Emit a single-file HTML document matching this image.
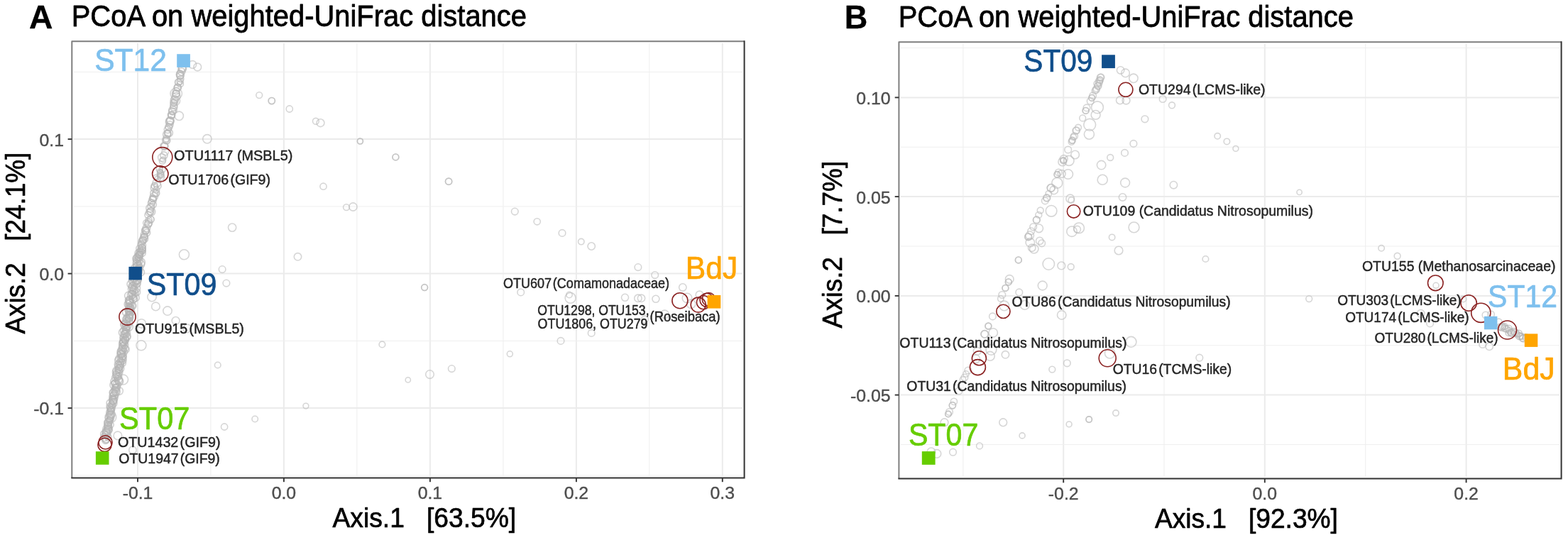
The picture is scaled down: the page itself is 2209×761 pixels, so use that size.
<!DOCTYPE html>
<html lang="en"><head><meta charset="utf-8"><title>PCoA on weighted-UniFrac distance</title>
<style>html,body{margin:0;padding:0;background:#fff;}body{width:2209px;height:761px;overflow:hidden;}svg{display:block;font-family:"Liberation Sans",Arial,Helvetica,sans-serif;}text{white-space:pre;}</style>
</head><body>
<svg width="2209" height="761" viewBox="0 0 2209 761">
<rect width="2209" height="761" fill="#fff"/>
<g id="panel-A">
<g stroke="#efefef" stroke-width="1.1" fill="none">
<line x1="296.9" y1="60.9" x2="296.9" y2="670.9"/>
<line x1="502.9" y1="60.9" x2="502.9" y2="670.9"/>
<line x1="708.9" y1="60.9" x2="708.9" y2="670.9"/>
<line x1="914.8" y1="60.9" x2="914.8" y2="670.9"/>
</g>
<g stroke="#ebebeb" stroke-width="2.0" fill="none">
<line x1="194" y1="60.9" x2="194" y2="670.9"/>
<line x1="399.9" y1="60.9" x2="399.9" y2="670.9"/>
<line x1="605.9" y1="60.9" x2="605.9" y2="670.9"/>
<line x1="811.9" y1="60.9" x2="811.9" y2="670.9"/>
<line x1="1017.8" y1="60.9" x2="1017.8" y2="670.9"/>
</g>
<g stroke="#efefef" stroke-width="1.1" fill="none">
<line x1="103.9" y1="101.5" x2="1046" y2="101.5"/>
<line x1="103.9" y1="291" x2="1046" y2="291"/>
<line x1="103.9" y1="480.5" x2="1046" y2="480.5"/>
<line x1="103.9" y1="670" x2="1046" y2="670"/>
</g>
<g stroke="#ebebeb" stroke-width="2.0" fill="none">
<line x1="103.9" y1="196.1" x2="1046" y2="196.1"/>
<line x1="103.9" y1="385.6" x2="1046" y2="385.6"/>
<line x1="103.9" y1="575.1" x2="1046" y2="575.1"/>
</g>
<g fill="none" stroke="#b3b3b3" stroke-width="1.6" stroke-opacity="0.62">
<circle cx="256.7" cy="97" r="5.7"/>
<circle cx="255.6" cy="101" r="5.2"/>
<circle cx="253.5" cy="103.7" r="4.7"/>
<circle cx="253.8" cy="105.3" r="5.5"/>
<circle cx="254.4" cy="111.1" r="4.5"/>
<circle cx="253.6" cy="114.5" r="4.5"/>
<circle cx="254" cy="118.2" r="4.4"/>
<circle cx="250.2" cy="124" r="5"/>
<circle cx="248.3" cy="128.1" r="4.7"/>
<circle cx="247.8" cy="132.2" r="5.3"/>
<circle cx="248.1" cy="136.2" r="5.7"/>
<circle cx="246.1" cy="140" r="5.1"/>
<circle cx="246.3" cy="142.5" r="4.5"/>
<circle cx="244.8" cy="148.4" r="4.9"/>
<circle cx="244.8" cy="151" r="5.1"/>
<circle cx="243.5" cy="155.4" r="5.7"/>
<circle cx="241.2" cy="161.9" r="4.8"/>
<circle cx="241.6" cy="163.2" r="4.7"/>
<circle cx="239.5" cy="170.3" r="5.7"/>
<circle cx="238.9" cy="171.7" r="5.6"/>
<circle cx="239.3" cy="175.6" r="4.8"/>
<circle cx="236.3" cy="182.6" r="5"/>
<circle cx="237.8" cy="187.2" r="5.6"/>
<circle cx="235.1" cy="189.4" r="5.5"/>
<circle cx="234.3" cy="195.2" r="4.6"/>
<circle cx="233.1" cy="197.6" r="4.5"/>
<circle cx="231.3" cy="205.9" r="5.4"/>
<circle cx="230.9" cy="219" r="5.1"/>
<circle cx="228.9" cy="226.7" r="4.5"/>
</g>
<g fill="none" stroke="#b3b3b3" stroke-width="1.6" stroke-opacity="0.62">
<circle cx="228.8" cy="239.1" r="4.2"/>
<circle cx="224.7" cy="238.5" r="4.5"/>
<circle cx="225.2" cy="241.3" r="3.6"/>
<circle cx="226" cy="243.4" r="4.1"/>
<circle cx="226.1" cy="244.7" r="4.8"/>
<circle cx="226.4" cy="246.8" r="4.6"/>
<circle cx="225" cy="247.9" r="3.4"/>
<circle cx="226.5" cy="249.8" r="4.9"/>
<circle cx="219.7" cy="249.8" r="3.6"/>
<circle cx="222" cy="252.1" r="4"/>
</g>
<g fill="none" stroke="#b3b3b3" stroke-width="1.6" stroke-opacity="0.62">
<circle cx="220.7" cy="258" r="5.7"/>
<circle cx="222" cy="261.9" r="5.1"/>
<circle cx="217.5" cy="264.9" r="5.2"/>
<circle cx="220.3" cy="267.4" r="4.4"/>
<circle cx="217.1" cy="272.1" r="5.3"/>
<circle cx="216.9" cy="277" r="5.5"/>
<circle cx="215.4" cy="279.3" r="4.7"/>
<circle cx="214.9" cy="282.2" r="5.3"/>
<circle cx="215.7" cy="288.3" r="4.7"/>
<circle cx="212.9" cy="291.1" r="4.9"/>
<circle cx="211.5" cy="293.3" r="5.7"/>
<circle cx="213" cy="298.3" r="5.7"/>
<circle cx="210.3" cy="299.7" r="4.9"/>
<circle cx="208.8" cy="303" r="4.8"/>
<circle cx="209.6" cy="310.1" r="4.6"/>
<circle cx="209.3" cy="314.1" r="5.3"/>
<circle cx="206" cy="314.1" r="4.4"/>
<circle cx="206.4" cy="321.3" r="5.3"/>
<circle cx="205" cy="324.6" r="5.3"/>
<circle cx="205.8" cy="325.4" r="4.7"/>
<circle cx="206.7" cy="328" r="5"/>
<circle cx="202.8" cy="330.7" r="4.6"/>
<circle cx="203.7" cy="333.1" r="4.7"/>
<circle cx="203" cy="333.9" r="5"/>
<circle cx="202.8" cy="336.4" r="5.8"/>
<circle cx="200.9" cy="338.8" r="4.9"/>
<circle cx="200" cy="340.4" r="5"/>
<circle cx="199" cy="343.6" r="4.5"/>
<circle cx="199.9" cy="345.6" r="5.6"/>
<circle cx="200.4" cy="349.1" r="4.7"/>
<circle cx="199.9" cy="350.2" r="5.4"/>
<circle cx="196.5" cy="350.1" r="4.7"/>
<circle cx="199.8" cy="352.4" r="5.3"/>
<circle cx="200.6" cy="353.2" r="4.6"/>
<circle cx="198" cy="354.4" r="5.1"/>
<circle cx="196.9" cy="355.4" r="4.9"/>
<circle cx="199.9" cy="356.5" r="5.3"/>
<circle cx="195.5" cy="356.7" r="5.5"/>
<circle cx="197" cy="358.5" r="4.9"/>
<circle cx="196.2" cy="359.3" r="4.7"/>
<circle cx="195.5" cy="360.9" r="5.9"/>
<circle cx="195.5" cy="362" r="4.7"/>
<circle cx="193" cy="362.9" r="5.1"/>
<circle cx="195.2" cy="364.8" r="4.5"/>
<circle cx="191.9" cy="364.7" r="5.1"/>
<circle cx="192.6" cy="366.3" r="4.5"/>
<circle cx="196.2" cy="367.6" r="5"/>
<circle cx="198.3" cy="369.6" r="6"/>
<circle cx="193.1" cy="369.4" r="5.6"/>
<circle cx="198.1" cy="372.4" r="5.6"/>
<circle cx="193" cy="372" r="5.6"/>
<circle cx="195.7" cy="374.2" r="4.5"/>
<circle cx="194.2" cy="375" r="5.9"/>
<circle cx="192.7" cy="375.9" r="5.6"/>
<circle cx="196.4" cy="377.7" r="5.1"/>
<circle cx="190.5" cy="378.1" r="6"/>
<circle cx="195.3" cy="379.2" r="5.1"/>
<circle cx="192.7" cy="380.6" r="5.2"/>
<circle cx="196.1" cy="382.4" r="4.6"/>
<circle cx="198.1" cy="383.7" r="5.4"/>
<circle cx="192.3" cy="383.2" r="4.4"/>
<circle cx="192" cy="385.2" r="5"/>
<circle cx="191.8" cy="386.1" r="6"/>
<circle cx="189.3" cy="386.3" r="4.9"/>
<circle cx="190.7" cy="388.7" r="5.8"/>
<circle cx="194.4" cy="389.7" r="4.4"/>
<circle cx="190.7" cy="390.2" r="5"/>
<circle cx="188.9" cy="391.4" r="5.9"/>
<circle cx="193.4" cy="394" r="5.7"/>
<circle cx="193.4" cy="395" r="5.6"/>
<circle cx="191.3" cy="395.4" r="5.8"/>
<circle cx="186.8" cy="395.5" r="5.4"/>
<circle cx="189.3" cy="397.4" r="5.9"/>
<circle cx="192.4" cy="399" r="5.9"/>
<circle cx="192.6" cy="400.4" r="4.7"/>
<circle cx="184.3" cy="400.4" r="5.3"/>
<circle cx="188.9" cy="401.4" r="4.6"/>
<circle cx="186.8" cy="402.4" r="4.7"/>
<circle cx="186.5" cy="403.9" r="5.6"/>
<circle cx="191.6" cy="406.3" r="5.9"/>
<circle cx="187.8" cy="406.8" r="4.5"/>
<circle cx="186.2" cy="407.3" r="5.8"/>
<circle cx="188.6" cy="408.7" r="5.9"/>
<circle cx="187.2" cy="410.5" r="4.5"/>
<circle cx="192.4" cy="411.7" r="5.2"/>
<circle cx="190.3" cy="412.9" r="4.8"/>
<circle cx="186" cy="413.6" r="4.5"/>
<circle cx="186.6" cy="414.8" r="5.7"/>
<circle cx="185" cy="415.6" r="5.7"/>
<circle cx="181.3" cy="416.8" r="5.7"/>
<circle cx="187.3" cy="418.6" r="4.9"/>
<circle cx="190.9" cy="419.4" r="5.4"/>
<circle cx="187.7" cy="421.1" r="5.4"/>
<circle cx="187.6" cy="421.6" r="5.5"/>
<circle cx="183" cy="422.7" r="5.4"/>
<circle cx="181.9" cy="423" r="5.4"/>
<circle cx="182.4" cy="424.6" r="5.3"/>
<circle cx="182" cy="426.4" r="5.6"/>
<circle cx="183.5" cy="427.4" r="5.5"/>
<circle cx="180.4" cy="428.8" r="5.3"/>
<circle cx="187" cy="431" r="4.9"/>
<circle cx="185" cy="430.8" r="5.7"/>
<circle cx="181.2" cy="431.2" r="4.6"/>
<circle cx="183.6" cy="433.9" r="5"/>
<circle cx="183" cy="434" r="5.6"/>
<circle cx="182.7" cy="435.3" r="5.3"/>
<circle cx="181.5" cy="436.8" r="5.7"/>
<circle cx="182.3" cy="437.5" r="5.6"/>
<circle cx="184.2" cy="439.5" r="5.7"/>
<circle cx="181.6" cy="440.1" r="4.5"/>
<circle cx="178" cy="440.3" r="5.4"/>
<circle cx="182.9" cy="443" r="5"/>
<circle cx="182.9" cy="443.6" r="4.9"/>
<circle cx="182.1" cy="444.6" r="5.2"/>
<circle cx="181" cy="446.4" r="6"/>
<circle cx="182.1" cy="447.5" r="5.6"/>
<circle cx="182.1" cy="448.1" r="5"/>
<circle cx="178.5" cy="449.3" r="5.2"/>
<circle cx="178.3" cy="449.8" r="5.3"/>
<circle cx="181.3" cy="451.8" r="5.3"/>
<circle cx="178.1" cy="452.8" r="5"/>
<circle cx="182.5" cy="454.4" r="4.6"/>
<circle cx="177.6" cy="455.5" r="5.5"/>
<circle cx="174.9" cy="455.9" r="4.4"/>
<circle cx="175.3" cy="457.6" r="5.6"/>
<circle cx="179" cy="459.2" r="5.9"/>
<circle cx="181.4" cy="460.4" r="5.9"/>
<circle cx="177.3" cy="460.8" r="5.5"/>
<circle cx="178.5" cy="462" r="4.6"/>
<circle cx="177.8" cy="464.1" r="5"/>
<circle cx="177.2" cy="464.6" r="5"/>
<circle cx="174.5" cy="465.7" r="5"/>
<circle cx="177.3" cy="467.7" r="4.6"/>
<circle cx="177.7" cy="469" r="5.8"/>
<circle cx="173.4" cy="468.6" r="6"/>
<circle cx="175.4" cy="470.7" r="4.6"/>
<circle cx="175.7" cy="471.2" r="5.7"/>
<circle cx="178.7" cy="473.7" r="5.5"/>
<circle cx="178.7" cy="475.1" r="5"/>
<circle cx="173.7" cy="475.7" r="4.8"/>
<circle cx="175.3" cy="476.6" r="5.8"/>
<circle cx="176.4" cy="478.2" r="5.1"/>
<circle cx="176.4" cy="479.8" r="4.8"/>
<circle cx="173.7" cy="480.7" r="5.2"/>
<circle cx="174.3" cy="481.6" r="5.4"/>
<circle cx="173.1" cy="482.2" r="4.6"/>
<circle cx="174.2" cy="483.8" r="5.5"/>
<circle cx="172.1" cy="484" r="4.6"/>
<circle cx="175.4" cy="486" r="5.3"/>
<circle cx="172.2" cy="487.6" r="4.4"/>
<circle cx="173.3" cy="488.6" r="5.6"/>
<circle cx="176.2" cy="491.2" r="4.6"/>
<circle cx="176.8" cy="492.3" r="5.3"/>
<circle cx="172.3" cy="492.7" r="5.9"/>
<circle cx="172.7" cy="493.3" r="4.7"/>
<circle cx="170.7" cy="495.2" r="5.4"/>
<circle cx="174.2" cy="496" r="5.3"/>
<circle cx="170.7" cy="496.9" r="5.6"/>
<circle cx="171.2" cy="498.7" r="5.3"/>
<circle cx="170.4" cy="499.5" r="5.5"/>
<circle cx="172.7" cy="501.1" r="5.5"/>
<circle cx="172.6" cy="502.6" r="4.6"/>
<circle cx="172.5" cy="504.2" r="5.7"/>
<circle cx="170.8" cy="504.9" r="5.7"/>
<circle cx="167.6" cy="505.4" r="5"/>
<circle cx="172.8" cy="507.8" r="5.1"/>
<circle cx="167.4" cy="508.1" r="5.7"/>
<circle cx="170.2" cy="509.5" r="5.1"/>
<circle cx="172.3" cy="511.5" r="5.1"/>
<circle cx="168.7" cy="512.3" r="5.6"/>
<circle cx="166.2" cy="513.5" r="4.9"/>
<circle cx="169.5" cy="514.4" r="4.9"/>
<circle cx="167.6" cy="516.3" r="5.8"/>
<circle cx="168.6" cy="517.8" r="4.4"/>
<circle cx="168.9" cy="519.2" r="5.8"/>
<circle cx="166.9" cy="520" r="4.9"/>
<circle cx="167.3" cy="521.5" r="5.3"/>
<circle cx="164" cy="521.9" r="4.9"/>
<circle cx="168" cy="524.4" r="4.9"/>
<circle cx="163.8" cy="524.3" r="5.4"/>
<circle cx="165.5" cy="526.5" r="6"/>
<circle cx="163.6" cy="527.8" r="4.8"/>
<circle cx="167.3" cy="530" r="4.5"/>
<circle cx="164.6" cy="529.8" r="5.5"/>
<circle cx="165.8" cy="531.3" r="5"/>
<circle cx="162.4" cy="532.2" r="4.8"/>
<circle cx="166.6" cy="534.9" r="5.4"/>
<circle cx="167.7" cy="536.1" r="5.5"/>
<circle cx="168" cy="537.8" r="5.6"/>
<circle cx="161.3" cy="537.3" r="5.3"/>
<circle cx="163.1" cy="539.8" r="5.7"/>
<circle cx="162.2" cy="540.9" r="5.2"/>
<circle cx="164.7" cy="542.4" r="5.5"/>
<circle cx="160.9" cy="542.6" r="6"/>
<circle cx="164.2" cy="545.5" r="5"/>
<circle cx="162.4" cy="546.1" r="4.6"/>
<circle cx="163.7" cy="547.6" r="5.2"/>
<circle cx="162.2" cy="549.5" r="4.5"/>
<circle cx="162.4" cy="550.8" r="6"/>
<circle cx="163.7" cy="552.3" r="5.5"/>
<circle cx="159.9" cy="553.3" r="5.7"/>
<circle cx="159.3" cy="553.4" r="4.8"/>
<circle cx="161.3" cy="556.3" r="5.8"/>
<circle cx="160.4" cy="557.4" r="5.1"/>
<circle cx="158.5" cy="558.3" r="4.5"/>
<circle cx="161.2" cy="560.8" r="4.8"/>
<circle cx="158.4" cy="561" r="4.4"/>
<circle cx="159.9" cy="563.3" r="4.8"/>
<circle cx="159.4" cy="563.7" r="5.8"/>
<circle cx="159.1" cy="564.7" r="5.3"/>
<circle cx="159.8" cy="566.2" r="4.8"/>
<circle cx="159.5" cy="568.3" r="5.4"/>
<circle cx="155.3" cy="568.1" r="5.2"/>
<circle cx="157.3" cy="570.5" r="4.9"/>
<circle cx="158.3" cy="571.7" r="4.5"/>
<circle cx="154.6" cy="572.8" r="4.6"/>
<circle cx="156.4" cy="575.2" r="5.7"/>
<circle cx="156.2" cy="575.6" r="4.5"/>
<circle cx="156.8" cy="577.8" r="4.5"/>
<circle cx="155.9" cy="578.4" r="4.9"/>
<circle cx="156" cy="579.8" r="4.5"/>
<circle cx="154.3" cy="581" r="4.6"/>
<circle cx="157" cy="583.7" r="5.3"/>
<circle cx="155.6" cy="583.9" r="5.4"/>
<circle cx="155.1" cy="585.7" r="5.4"/>
<circle cx="156" cy="588.1" r="4.9"/>
<circle cx="153.7" cy="588.7" r="5.4"/>
<circle cx="155.4" cy="590.4" r="4.5"/>
<circle cx="154.5" cy="591.8" r="4.4"/>
<circle cx="153.9" cy="592.7" r="5"/>
<circle cx="152.6" cy="595" r="5.4"/>
<circle cx="152.3" cy="596" r="5.5"/>
<circle cx="155.8" cy="598.6" r="4.4"/>
<circle cx="152.1" cy="598.9" r="5.3"/>
<circle cx="151.7" cy="600.3" r="4.9"/>
<circle cx="152.3" cy="601.6" r="5.4"/>
<circle cx="151.8" cy="603.7" r="4.8"/>
<circle cx="152.8" cy="604.6" r="5.4"/>
<circle cx="152" cy="606.9" r="5.5"/>
<circle cx="149.8" cy="607.8" r="5.3"/>
<circle cx="149.7" cy="608.9" r="5.4"/>
<circle cx="149.9" cy="611.3" r="5.8"/>
<circle cx="146.8" cy="611.7" r="5.2"/>
<circle cx="149.3" cy="613.5" r="5.3"/>
<circle cx="152.2" cy="616" r="4.8"/>
<circle cx="147.1" cy="616.4" r="5.3"/>
<circle cx="149.1" cy="618.9" r="5.1"/>
<circle cx="149.5" cy="619.8" r="4.5"/>
<circle cx="148.7" cy="620.7" r="4.8"/>
</g>
<g fill="none" stroke="#b9b9b9" stroke-width="1.6" stroke-opacity="0.58">
<circle cx="271.2" cy="91" r="5.4"/>
<circle cx="278.2" cy="94.5" r="5.4"/>
<circle cx="365.2" cy="134.1" r="4.4"/>
<circle cx="407.8" cy="153.5" r="4.6"/>
<circle cx="444.9" cy="170.8" r="4.4"/>
<circle cx="451.5" cy="173.2" r="5.4"/>
<circle cx="291.9" cy="195.8" r="6.2"/>
<circle cx="252.2" cy="163.3" r="6.2"/>
<circle cx="248.2" cy="132" r="8.2"/>
<circle cx="246.8" cy="142" r="6.8"/>
<circle cx="229.8" cy="225" r="3.9"/>
<circle cx="228" cy="222" r="5.4"/>
<circle cx="232.8" cy="214" r="4.8"/>
<circle cx="455.5" cy="262.7" r="4.6"/>
<circle cx="488" cy="292.1" r="4.4"/>
<circle cx="497.4" cy="291.5" r="5.6"/>
<circle cx="327.1" cy="320.6" r="5.6"/>
<circle cx="259.4" cy="358.8" r="7"/>
<circle cx="419.5" cy="361.8" r="5.2"/>
<circle cx="313.1" cy="379.6" r="4.8"/>
<circle cx="318.9" cy="399.1" r="4.8"/>
<circle cx="214" cy="418.5" r="6.2"/>
<circle cx="219.4" cy="431.9" r="5.8"/>
<circle cx="236" cy="438.1" r="6.2"/>
<circle cx="247.6" cy="451.9" r="5.4"/>
<circle cx="199.3" cy="455.9" r="6.2"/>
<circle cx="263.8" cy="462.9" r="5.8"/>
<circle cx="198.9" cy="486.8" r="7"/>
<circle cx="538.4" cy="485.4" r="4.3"/>
<circle cx="306.7" cy="514.5" r="4.3"/>
<circle cx="430.9" cy="572.1" r="3.9"/>
<circle cx="359.2" cy="590.5" r="4.2"/>
<circle cx="316.1" cy="601.5" r="4.6"/>
<circle cx="165.9" cy="613.9" r="5.8"/>
<circle cx="186.9" cy="634.2" r="5.2"/>
<circle cx="173.5" cy="535" r="7"/>
<circle cx="167.9" cy="551" r="5.4"/>
<circle cx="155.9" cy="587.9" r="7.8"/>
<circle cx="151.5" cy="604.9" r="6.8"/>
<circle cx="725.3" cy="298.1" r="4.8"/>
<circle cx="756.7" cy="312.3" r="4.6"/>
<circle cx="792" cy="328.4" r="4.8"/>
<circle cx="818.8" cy="340.6" r="4.2"/>
<circle cx="833.2" cy="347" r="5.2"/>
<circle cx="733.7" cy="411.9" r="4.8"/>
<circle cx="802" cy="415.5" r="4.2"/>
<circle cx="803.6" cy="419.9" r="7.4"/>
<circle cx="880.5" cy="419.3" r="5"/>
<circle cx="898.9" cy="420.3" r="5.2"/>
<circle cx="903.5" cy="420.3" r="5.2"/>
<circle cx="923.9" cy="421.3" r="5"/>
<circle cx="898.9" cy="376.6" r="4.8"/>
<circle cx="922.7" cy="387.6" r="4.8"/>
<circle cx="961.8" cy="404.9" r="5.2"/>
<circle cx="833.2" cy="469.4" r="4.8"/>
<circle cx="790" cy="480.4" r="4.8"/>
<circle cx="718.3" cy="498.8" r="4"/>
<circle cx="936.4" cy="442.9" r="5.8"/>
<circle cx="908.5" cy="449.9" r="4.8"/>
<circle cx="968" cy="420" r="6.8"/>
<circle cx="985.5" cy="415.4" r="5.3"/>
<circle cx="973.6" cy="428.3" r="6.2"/>
<circle cx="574.8" cy="535.4" r="3.6"/>
<circle cx="605.5" cy="527.6" r="5.8"/>
<circle cx="636.3" cy="519.6" r="4.8"/>
<circle cx="382.8" cy="142.1" r="4.6"/>
<circle cx="507.4" cy="199" r="4"/>
<circle cx="557.4" cy="221.4" r="4.4"/>
<circle cx="632.1" cy="255.7" r="4.6"/>
<circle cx="598.1" cy="405.1" r="4.4"/>
<circle cx="219.8" cy="272.3" r="4.8"/>
<circle cx="213.4" cy="286" r="4.8"/>
<circle cx="212.2" cy="309.3" r="4.8"/>
<circle cx="204.8" cy="325" r="4.8"/>
<circle cx="256.8" cy="96" r="5"/>
<circle cx="253.8" cy="107" r="4.8"/>
<circle cx="251.4" cy="116" r="4.8"/>
<circle cx="250.2" cy="123" r="4.8"/>
<circle cx="248.2" cy="132" r="4.8"/>
<circle cx="244.8" cy="145" r="4.6"/>
<circle cx="242.8" cy="157" r="4.8"/>
<circle cx="241.8" cy="162" r="4.8"/>
<circle cx="239.8" cy="170" r="4.8"/>
<circle cx="237.8" cy="179" r="4.8"/>
<circle cx="236.2" cy="188" r="4.6"/>
<circle cx="234.8" cy="198" r="4.8"/>
<circle cx="231.8" cy="206" r="4.8"/>
<circle cx="217.8" cy="262" r="4.6"/>
<circle cx="215.8" cy="280" r="4.6"/>
<circle cx="211.8" cy="298" r="4.8"/>
<circle cx="208.8" cy="316" r="4.8"/>
<circle cx="201.8" cy="338" r="4.8"/>
</g>
<g fill="none" stroke="#b9b9b9" stroke-width="1.7" stroke-opacity="0.58">
<circle cx="382.8" cy="142.1" r="4.6"/>
<circle cx="507.4" cy="199" r="4"/>
<circle cx="557.4" cy="221.4" r="4.4"/>
<circle cx="632.1" cy="255.7" r="4.6"/>
<circle cx="598.1" cy="405.1" r="4.4"/>
<circle cx="219.8" cy="272.3" r="4.8"/>
<circle cx="213.4" cy="286" r="4.8"/>
<circle cx="212.2" cy="309.3" r="4.8"/>
<circle cx="204.8" cy="325" r="4.8"/>
<circle cx="256.8" cy="96" r="5"/>
<circle cx="253.8" cy="107" r="4.8"/>
<circle cx="251.4" cy="116" r="4.8"/>
<circle cx="250.2" cy="123" r="4.8"/>
<circle cx="248.2" cy="132" r="4.8"/>
<circle cx="244.8" cy="145" r="4.6"/>
<circle cx="242.8" cy="157" r="4.8"/>
<circle cx="241.8" cy="162" r="4.8"/>
<circle cx="239.8" cy="170" r="4.8"/>
<circle cx="237.8" cy="179" r="4.8"/>
<circle cx="236.2" cy="188" r="4.6"/>
<circle cx="234.8" cy="198" r="4.8"/>
<circle cx="231.8" cy="206" r="4.8"/>
<circle cx="217.8" cy="262" r="4.6"/>
<circle cx="215.8" cy="280" r="4.6"/>
<circle cx="211.8" cy="298" r="4.8"/>
<circle cx="208.8" cy="316" r="4.8"/>
<circle cx="201.8" cy="338" r="4.8"/>
</g>
<g fill="none" stroke="#8b2323" stroke-width="1.6">
<circle cx="228.8" cy="221.6" r="14"/>
<circle cx="225.8" cy="245" r="11.2"/>
<circle cx="179.5" cy="446.5" r="11.6"/>
<circle cx="148.5" cy="623.4" r="9.6"/>
<circle cx="147.5" cy="626.8" r="9.6"/>
<circle cx="957.9" cy="423.7" r="11"/>
<circle cx="983.7" cy="429.6" r="10.5"/>
<circle cx="991" cy="426.1" r="9.6"/>
<circle cx="995.6" cy="422.8" r="9.6"/>
<circle cx="998.4" cy="421.8" r="9.2"/>
</g>
<rect x="249.2" y="76.2" width="18.7" height="18.7" fill="#7ec0ee"/>
<rect x="181.4" y="375.9" width="18.5" height="18.5" fill="#104e8b"/>
<rect x="134.9" y="636.2" width="18.6" height="18.6" fill="#66cd00"/>
<rect x="996.6" y="415.9" width="18.7" height="18.7" fill="#ffa500"/>
<path d="M101.3 673.5V58.3H1048.6" fill="none" stroke="#7f7f7f" stroke-width="2.0" stroke-linejoin="round"/>
<path d="M101.3 673.5H1048.6V58.3" fill="none" stroke="#333333" stroke-width="2.0" stroke-linecap="square"/>
<g stroke="#333" stroke-width="1.9">
<line x1="194" y1="673.5" x2="194" y2="679.2"/>
<line x1="399.9" y1="673.5" x2="399.9" y2="679.2"/>
<line x1="605.9" y1="673.5" x2="605.9" y2="679.2"/>
<line x1="811.9" y1="673.5" x2="811.9" y2="679.2"/>
<line x1="1017.8" y1="673.5" x2="1017.8" y2="679.2"/>
<line x1="95.6" y1="196.1" x2="101.3" y2="196.1"/>
<line x1="95.6" y1="385.6" x2="101.3" y2="385.6"/>
<line x1="95.6" y1="575.1" x2="101.3" y2="575.1"/>
</g>
<g font-size="24.8" fill="#4d4d4d" stroke="#4d4d4d" stroke-width="0.4">
<text transform="translate(194 703.4) scale(1 1)" text-anchor="middle">-0.1</text>
<text transform="translate(399.9 703.4) scale(1 1)" text-anchor="middle">0.0</text>
<text transform="translate(605.9 703.4) scale(1 1)" text-anchor="middle">0.1</text>
<text transform="translate(811.9 703.4) scale(1 1)" text-anchor="middle">0.2</text>
<text transform="translate(1017.8 703.4) scale(1 1)" text-anchor="middle">0.3</text>
<text transform="translate(90 206) scale(1 1)" text-anchor="end">0.1</text>
<text transform="translate(90 395) scale(1 1)" text-anchor="end">0.0</text>
<text transform="translate(90 584) scale(1 1)" text-anchor="end">-0.1</text>
</g>
<text transform="translate(41.04 40) scale(1.0044 1)" font-size="46.08" fill="#000" stroke="#000" stroke-width="0.3" stroke-linejoin="round" font-weight="bold">A</text>
<text transform="translate(100.72 37) scale(0.9411 1)" font-size="42.44" fill="#000" stroke="#000" stroke-width="0.8" stroke-linejoin="round">PCoA on weighted-UniFrac distance</text>
<text transform="translate(468.48 743) scale(0.9563 1)" font-size="38.95" fill="#000" stroke="#000" stroke-width="0.7" stroke-linejoin="round" xml:space="preserve">Axis.1   [63.5%]</text>
<text transform="translate(35 470.52) rotate(-90) scale(0.9346 1)" font-size="39.39" fill="#000" stroke="#000" stroke-width="0.7" stroke-linejoin="round" xml:space="preserve">Axis.2   [24.1%]</text>
<text transform="translate(133.23 100) scale(0.9634 1)" font-size="44.19" fill="#7ec0ee" stroke="#7ec0ee" stroke-width="0.7" stroke-linejoin="round">ST12</text>
<text transform="translate(206.69 416) scale(0.9346 1)" font-size="44.19" fill="#104e8b" stroke="#104e8b" stroke-width="0.7" stroke-linejoin="round">ST09</text>
<text transform="translate(168.08 605) scale(0.9398 1)" font-size="44.19" fill="#66cd00" stroke="#66cd00" stroke-width="0.7" stroke-linejoin="round">ST07</text>
<text transform="translate(965.86 393) scale(0.9633 1)" font-size="44.19" fill="#ffa500" stroke="#ffa500" stroke-width="0.7" stroke-linejoin="round">BdJ</text>
<text transform="translate(245.12 226) scale(0.9705 1)" font-size="20.49" fill="#262626" stroke="#262626" stroke-width="0.5" stroke-linejoin="round">OTU1117 (MSBL5)</text>
<text transform="translate(237.13 260) scale(0.9577 1)" font-size="20.49" fill="#262626" stroke="#262626" stroke-width="0.5" stroke-linejoin="round">OTU1706<tspan dx="-3.34"> (GIF9)</tspan></text>
<text transform="translate(189.93 470) scale(0.9588 1)" font-size="20.49" fill="#262626" stroke="#262626" stroke-width="0.5" stroke-linejoin="round">OTU915<tspan dx="-3.34"> (MSBL5)</tspan></text>
<text transform="translate(165.92 630) scale(0.9616 1)" font-size="20.49" fill="#262626" stroke="#262626" stroke-width="0.5" stroke-linejoin="round">OTU1432<tspan dx="-3.33"> (GIF9)</tspan></text>
<text transform="translate(167.34 653) scale(0.9484 1)" font-size="20.49" fill="#262626" stroke="#262626" stroke-width="0.5" stroke-linejoin="round">OTU1947<tspan dx="-3.37"> (GIF9)</tspan></text>
<text transform="translate(709 406) scale(0.8796 1)" font-size="20.49" fill="#262626" stroke="#262626" stroke-width="0.5" stroke-linejoin="round">OTU607<tspan dx="-3.64"> (Comamonadaceae)</tspan></text>
<text transform="translate(757.22 444) scale(0.8589 1)" font-size="20.49" fill="#262626" stroke="#262626" stroke-width="0.5" stroke-linejoin="round">OTU1298, OTU153,</text>
<text transform="translate(757.61 463) scale(0.8722 1)" font-size="20.49" fill="#262626" stroke="#262626" stroke-width="0.5" stroke-linejoin="round">OTU1806, OTU279</text>
<text transform="translate(915.51 453) scale(0.8977 1)" font-size="20.49" fill="#262626" stroke="#262626" stroke-width="0.5" stroke-linejoin="round">(Roseibaca)</text>
</g>
<g id="panel-B">
<g stroke="#efefef" stroke-width="1.1" fill="none">
<line x1="1356.9" y1="61.9" x2="1356.9" y2="672"/>
<line x1="1640" y1="61.9" x2="1640" y2="672"/>
<line x1="1923.7" y1="61.9" x2="1923.7" y2="672"/>
</g>
<g stroke="#ebebeb" stroke-width="2.0" fill="none">
<line x1="1498.2" y1="61.9" x2="1498.2" y2="672"/>
<line x1="1781.8" y1="61.9" x2="1781.8" y2="672"/>
<line x1="2065.6" y1="61.9" x2="2065.6" y2="672"/>
</g>
<g stroke="#efefef" stroke-width="1.1" fill="none">
<line x1="1269" y1="67.5" x2="2197" y2="67.5"/>
<line x1="1269" y1="207.3" x2="2197" y2="207.3"/>
<line x1="1269" y1="347" x2="2197" y2="347"/>
<line x1="1269" y1="486.8" x2="2197" y2="486.8"/>
<line x1="1269" y1="626.5" x2="2197" y2="626.5"/>
</g>
<g stroke="#ebebeb" stroke-width="2.0" fill="none">
<line x1="1269" y1="137.4" x2="2197" y2="137.4"/>
<line x1="1269" y1="277.1" x2="2197" y2="277.1"/>
<line x1="1269" y1="416.9" x2="2197" y2="416.9"/>
<line x1="1269" y1="556.6" x2="2197" y2="556.6"/>
</g>
<g fill="none" stroke="#b3b3b3" stroke-width="1.6" stroke-opacity="0.62">
<circle cx="2113.2" cy="460.6" r="4.5"/>
<circle cx="2115.6" cy="461.3" r="5"/>
<circle cx="2117" cy="460.1" r="4.5"/>
<circle cx="2119.5" cy="459.9" r="4.4"/>
<circle cx="2120.1" cy="462.7" r="4.8"/>
<circle cx="2122.6" cy="463.5" r="4.5"/>
<circle cx="2125.3" cy="463.2" r="4.9"/>
<circle cx="2126.2" cy="466.1" r="4.5"/>
<circle cx="2125.2" cy="469.2" r="4.2"/>
<circle cx="2128.5" cy="468.9" r="4.5"/>
<circle cx="2129.6" cy="469" r="5.1"/>
<circle cx="2132.6" cy="467.3" r="4.7"/>
<circle cx="2134.9" cy="468.8" r="4.8"/>
<circle cx="2136.7" cy="470.6" r="4.4"/>
<circle cx="2139.6" cy="469.9" r="4.7"/>
<circle cx="2140.5" cy="473.7" r="5.1"/>
<circle cx="2142" cy="473.7" r="4.5"/>
<circle cx="2144" cy="474.2" r="4.2"/>
<circle cx="2144.9" cy="476.4" r="4.4"/>
<circle cx="2145.9" cy="476.9" r="5"/>
<circle cx="2149.6" cy="475.2" r="4.6"/>
</g>
<g fill="none" stroke="#b9b9b9" stroke-width="1.6" stroke-opacity="0.62">
<circle cx="1550.2" cy="109.3" r="4.8"/>
<circle cx="1549.2" cy="112.4" r="4.5"/>
<circle cx="1548.2" cy="114.8" r="4.9"/>
<circle cx="1545.8" cy="118.3" r="4.8"/>
<circle cx="1547" cy="121.3" r="4.9"/>
<circle cx="1544.3" cy="126.2" r="5"/>
</g>
<g fill="none" stroke="#b9b9b9" stroke-width="1.6" stroke-opacity="0.62">
<circle cx="1515.8" cy="184.1" r="4.8"/>
<circle cx="1512.1" cy="193.2" r="4.3"/>
</g>
<g fill="none" stroke="#b9b9b9" stroke-width="1.6" stroke-opacity="0.58">
<circle cx="1578.6" cy="98.9" r="5.2"/>
<circle cx="1585.5" cy="102.9" r="5.8"/>
<circle cx="1596.9" cy="110.3" r="6.2"/>
<circle cx="1577.9" cy="141.3" r="5.4"/>
<circle cx="1586.5" cy="141.5" r="5.4"/>
<circle cx="1638.1" cy="139.5" r="4.8"/>
<circle cx="1651" cy="148.3" r="4.4"/>
<circle cx="1612.9" cy="167.8" r="4.8"/>
<circle cx="1596.9" cy="202.4" r="4.8"/>
<circle cx="1546" cy="151.3" r="8.4"/>
<circle cx="1543.6" cy="161.9" r="6.4"/>
<circle cx="1535.2" cy="175.8" r="8.4"/>
<circle cx="1534.4" cy="189.2" r="7"/>
<circle cx="1525.2" cy="166.4" r="4.4"/>
<circle cx="1551" cy="108.9" r="4.8"/>
<circle cx="1550" cy="112.9" r="4.4"/>
<circle cx="1548.6" cy="116.9" r="4.4"/>
<circle cx="1546.6" cy="120.9" r="4.4"/>
<circle cx="1544.6" cy="124.9" r="4.4"/>
<circle cx="1542.6" cy="127.9" r="4.4"/>
<circle cx="1539.6" cy="134.9" r="4.8"/>
<circle cx="1536.2" cy="142.5" r="4.8"/>
<circle cx="1531" cy="151.9" r="4.8"/>
<circle cx="1519" cy="179.8" r="4.4"/>
<circle cx="1516.6" cy="183.8" r="4.8"/>
<circle cx="1513.6" cy="191.8" r="4.8"/>
<circle cx="1509.6" cy="199.8" r="4.4"/>
<circle cx="1504.7" cy="211" r="4.8"/>
<circle cx="1514.6" cy="218" r="5.8"/>
<circle cx="1496.7" cy="228" r="5.8"/>
<circle cx="1506" cy="226.4" r="7"/>
<circle cx="1498.7" cy="224" r="5.4"/>
<circle cx="1564.2" cy="222" r="4.4"/>
<circle cx="1584.5" cy="215.4" r="4.8"/>
<circle cx="1551.6" cy="232.6" r="6.2"/>
<circle cx="1553.2" cy="253.3" r="7"/>
<circle cx="1585.1" cy="257.5" r="6.4"/>
<circle cx="1653.4" cy="260.7" r="5.2"/>
<circle cx="1581.5" cy="277.9" r="5.2"/>
<circle cx="1504.7" cy="245.5" r="6.8"/>
<circle cx="1495.7" cy="245" r="5.4"/>
<circle cx="1491.3" cy="243" r="4.8"/>
<circle cx="1489.3" cy="257.9" r="7.4"/>
<circle cx="1484.7" cy="267.9" r="5.8"/>
<circle cx="1477.3" cy="272.9" r="4.2"/>
<circle cx="1472.3" cy="282.9" r="4.8"/>
<circle cx="1507.7" cy="279.9" r="5.8"/>
<circle cx="1509.3" cy="281.9" r="4.2"/>
<circle cx="1481.1" cy="297.3" r="7.8"/>
<circle cx="1465.7" cy="296.5" r="4.4"/>
<circle cx="1463.3" cy="302.9" r="4.4"/>
<circle cx="1455.7" cy="319.8" r="4.8"/>
<circle cx="1463.7" cy="321.8" r="5.8"/>
<circle cx="1452.7" cy="325.8" r="4.8"/>
<circle cx="1450.7" cy="331.8" r="5.8"/>
<circle cx="1451.3" cy="341.8" r="6.2"/>
<circle cx="1464.7" cy="339.4" r="5.2"/>
<circle cx="1467.7" cy="342.8" r="4.8"/>
<circle cx="1453.7" cy="349.2" r="5.2"/>
<circle cx="1456.7" cy="350.8" r="6.2"/>
<circle cx="1510" cy="326.2" r="7.2"/>
<circle cx="1517.6" cy="323.2" r="4.8"/>
<circle cx="1520" cy="321.4" r="7.4"/>
<circle cx="1597.5" cy="320.4" r="7.4"/>
<circle cx="1566.6" cy="334.4" r="4.2"/>
<circle cx="1576" cy="353" r="5.8"/>
<circle cx="1477.3" cy="372" r="8.2"/>
<circle cx="1495.3" cy="374.4" r="5.4"/>
<circle cx="1508.7" cy="376" r="4.4"/>
<circle cx="1698.4" cy="365" r="4.3"/>
<circle cx="1422.2" cy="393.4" r="5.8"/>
<circle cx="1468.7" cy="402.5" r="6.4"/>
<circle cx="1435.8" cy="411.9" r="4.8"/>
<circle cx="1411.8" cy="415.5" r="4.8"/>
<circle cx="1409.8" cy="420.9" r="4.2"/>
<circle cx="1414.8" cy="430.9" r="6.8"/>
<circle cx="1443.7" cy="429.9" r="6.4"/>
<circle cx="1398.4" cy="445.9" r="4.8"/>
<circle cx="1495.7" cy="443.9" r="6.2"/>
<circle cx="1399.2" cy="468.9" r="6.2"/>
<circle cx="1593.5" cy="481.8" r="7.4"/>
<circle cx="1376.8" cy="494.8" r="5.4"/>
<circle cx="1396.4" cy="492.8" r="7.4"/>
<circle cx="1394.8" cy="501.8" r="6.4"/>
<circle cx="1416.4" cy="499.8" r="5.2"/>
<circle cx="1563.6" cy="497.8" r="7.2"/>
<circle cx="1503.3" cy="511.8" r="4.8"/>
<circle cx="1689.8" cy="504.2" r="4.8"/>
<circle cx="1374.8" cy="505.8" r="5.8"/>
<circle cx="1482.3" cy="520.6" r="4.4"/>
<circle cx="1363.9" cy="522" r="4.8"/>
<circle cx="1360.9" cy="527" r="4.2"/>
<circle cx="1358.9" cy="532" r="4.8"/>
<circle cx="1356.5" cy="535" r="4.2"/>
<circle cx="1350.9" cy="551" r="4.8"/>
<circle cx="1343.9" cy="565.9" r="4.6"/>
<circle cx="1337.5" cy="580.5" r="4.8"/>
<circle cx="1330.5" cy="595.3" r="5.4"/>
<circle cx="1413.2" cy="595.3" r="5.4"/>
<circle cx="1440.1" cy="613.9" r="4"/>
<circle cx="1506.1" cy="597.9" r="3.9"/>
<circle cx="1572" cy="582.1" r="4.2"/>
<circle cx="1380" cy="628.4" r="4.4"/>
<circle cx="1342.5" cy="637.2" r="4.8"/>
<circle cx="1319.9" cy="639.4" r="5.8"/>
<circle cx="1311.9" cy="636.8" r="5.8"/>
<circle cx="1715.2" cy="191.8" r="4.2"/>
<circle cx="1728.4" cy="199.4" r="4.2"/>
<circle cx="1740.9" cy="209.4" r="3.9"/>
<circle cx="1830.6" cy="270.9" r="3.6"/>
<circle cx="1946.1" cy="349.8" r="4.2"/>
<circle cx="1968.6" cy="360.8" r="4.4"/>
<circle cx="1844.2" cy="421.1" r="4.4"/>
<circle cx="2023" cy="402.3" r="4"/>
<circle cx="2001.6" cy="441.9" r="5.4"/>
<circle cx="2014.6" cy="455.9" r="4.8"/>
<circle cx="2061.5" cy="421.5" r="4.2"/>
<circle cx="2093" cy="444" r="4.8"/>
<circle cx="2100.5" cy="443" r="4.8"/>
<circle cx="2111.4" cy="453.9" r="4.8"/>
<circle cx="2088.7" cy="485.5" r="4.8"/>
<circle cx="2098.2" cy="488.3" r="5.2"/>
<circle cx="1538.2" cy="137.9" r="4.4"/>
<circle cx="1529.6" cy="155.9" r="4.4"/>
<circle cx="1510.6" cy="197.8" r="4.4"/>
<circle cx="1498.1" cy="226.4" r="4.2"/>
<circle cx="1489.3" cy="245.9" r="4.2"/>
<circle cx="1480.7" cy="264.9" r="5.4"/>
<circle cx="1474.7" cy="278.9" r="4.8"/>
<circle cx="1460.3" cy="309.9" r="4.8"/>
<circle cx="1448.7" cy="333.8" r="4.8"/>
<circle cx="1434.8" cy="366.4" r="4.4"/>
<circle cx="1420.8" cy="397.4" r="4.4"/>
<circle cx="1416.4" cy="405.9" r="4.4"/>
<circle cx="1392.4" cy="459.5" r="4.4"/>
<circle cx="1387.2" cy="470.8" r="5.2"/>
<circle cx="1341.9" cy="571.3" r="4.6"/>
<circle cx="1335.9" cy="583.5" r="4.2"/>
<circle cx="1534.2" cy="591.1" r="4.2"/>
</g>
<g fill="none" stroke="#b9b9b9" stroke-width="1.7" stroke-opacity="0.58">
<circle cx="1538.2" cy="137.9" r="4.4"/>
<circle cx="1529.6" cy="155.9" r="4.4"/>
<circle cx="1510.6" cy="197.8" r="4.4"/>
<circle cx="1498.1" cy="226.4" r="4.2"/>
<circle cx="1489.3" cy="245.9" r="4.2"/>
<circle cx="1480.7" cy="264.9" r="5.4"/>
<circle cx="1474.7" cy="278.9" r="4.8"/>
<circle cx="1460.3" cy="309.9" r="4.8"/>
<circle cx="1448.7" cy="333.8" r="4.8"/>
<circle cx="1434.8" cy="366.4" r="4.4"/>
<circle cx="1420.8" cy="397.4" r="4.4"/>
<circle cx="1416.4" cy="405.9" r="4.4"/>
<circle cx="1392.4" cy="459.5" r="4.4"/>
<circle cx="1387.2" cy="470.8" r="5.2"/>
<circle cx="1341.9" cy="571.3" r="4.6"/>
<circle cx="1335.9" cy="583.5" r="4.2"/>
<circle cx="1534.2" cy="591.1" r="4.2"/>
</g>
<g fill="none" stroke="#8b2323" stroke-width="1.6">
<circle cx="1585.9" cy="126.3" r="10"/>
<circle cx="1512.6" cy="297.9" r="9.2"/>
<circle cx="1413.4" cy="438.9" r="9.6"/>
<circle cx="1379.4" cy="504.8" r="10"/>
<circle cx="1377.4" cy="517.6" r="11"/>
<circle cx="1560.2" cy="504.8" r="12"/>
<circle cx="2022.3" cy="398.8" r="10.8"/>
<circle cx="2069.1" cy="427" r="11.2"/>
<circle cx="2086.3" cy="440.8" r="13.6"/>
<circle cx="2123.5" cy="465" r="13"/>
</g>
<rect x="1552.1" y="77.3" width="18.8" height="18.8" fill="#104e8b"/>
<rect x="1298.8" y="636.1" width="18.8" height="18.8" fill="#66cd00"/>
<rect x="2090.9" y="445.8" width="18.5" height="18.5" fill="#7ec0ee"/>
<rect x="2147.8" y="470.4" width="18.5" height="18.5" fill="#ffa500"/>
<path d="M1266.4 674.6V59.3H2199.6" fill="none" stroke="#7f7f7f" stroke-width="2.0" stroke-linejoin="round"/>
<path d="M1266.4 674.6H2199.6V59.3" fill="none" stroke="#333333" stroke-width="2.0" stroke-linecap="square"/>
<g stroke="#333" stroke-width="1.9">
<line x1="1498.2" y1="674.6" x2="1498.2" y2="680.3"/>
<line x1="1781.8" y1="674.6" x2="1781.8" y2="680.3"/>
<line x1="2065.6" y1="674.6" x2="2065.6" y2="680.3"/>
<line x1="1260.7" y1="137.4" x2="1266.4" y2="137.4"/>
<line x1="1260.7" y1="277.1" x2="1266.4" y2="277.1"/>
<line x1="1260.7" y1="416.9" x2="1266.4" y2="416.9"/>
<line x1="1260.7" y1="556.6" x2="1266.4" y2="556.6"/>
</g>
<g font-size="24.8" fill="#4d4d4d" stroke="#4d4d4d" stroke-width="0.4">
<text transform="translate(1498.2 704.4) scale(1 1)" text-anchor="middle">-0.2</text>
<text transform="translate(1781.8 704.4) scale(1 1)" text-anchor="middle">0.0</text>
<text transform="translate(2065.6 704.4) scale(1 1)" text-anchor="middle">0.2</text>
<text transform="translate(1254.6 147) scale(1 1)" text-anchor="end">0.10</text>
<text transform="translate(1254.6 287) scale(1 1)" text-anchor="end">0.05</text>
<text transform="translate(1254.6 426) scale(1 1)" text-anchor="end">0.00</text>
<text transform="translate(1254.6 566) scale(1 1)" text-anchor="end">-0.05</text>
</g>
<text transform="translate(1189.78 40) scale(0.9768 1)" font-size="46.08" fill="#000" stroke="#000" stroke-width="0.3" stroke-linejoin="round" font-weight="bold">B</text>
<text transform="translate(1265.72 38) scale(0.9411 1)" font-size="42.44" fill="#000" stroke="#000" stroke-width="0.8" stroke-linejoin="round">PCoA on weighted-UniFrac distance</text>
<text transform="translate(1626.88 744) scale(0.9541 1)" font-size="38.95" fill="#000" stroke="#000" stroke-width="0.7" stroke-linejoin="round" xml:space="preserve">Axis.1   [92.3%]</text>
<text transform="translate(1186 462.52) rotate(-90) scale(0.9365 1)" font-size="39.39" fill="#000" stroke="#000" stroke-width="0.7" stroke-linejoin="round" xml:space="preserve">Axis.2   [7.7%]</text>
<text transform="translate(1442.32 101) scale(0.9189 1)" font-size="44.19" fill="#104e8b" stroke="#104e8b" stroke-width="0.7" stroke-linejoin="round">ST09</text>
<text transform="translate(1279.9 628) scale(0.9319 1)" font-size="44.19" fill="#66cd00" stroke="#66cd00" stroke-width="0.7" stroke-linejoin="round">ST07</text>
<text transform="translate(2096.11 433) scale(0.926 1)" font-size="44.19" fill="#7ec0ee" stroke="#7ec0ee" stroke-width="0.7" stroke-linejoin="round">ST12</text>
<text transform="translate(2116.84 535) scale(0.9691 1)" font-size="44.19" fill="#ffa500" stroke="#ffa500" stroke-width="0.7" stroke-linejoin="round">BdJ</text>
<text transform="translate(1603.93 133) scale(0.9515 1)" font-size="20.49" fill="#262626" stroke="#262626" stroke-width="0.5" stroke-linejoin="round">OTU294<tspan dx="-3.36"> (LCMS-like)</tspan></text>
<text transform="translate(1525.74 304) scale(0.9494 1)" font-size="20.49" fill="#262626" stroke="#262626" stroke-width="0.5" stroke-linejoin="round">OTU109 (Candidatus Nitrosopumilus)</text>
<text transform="translate(1425.54 432) scale(0.9428 1)" font-size="20.49" fill="#262626" stroke="#262626" stroke-width="0.5" stroke-linejoin="round">OTU86<tspan dx="-3.39"> (Candidatus Nitrosopumilus)</tspan></text>
<text transform="translate(1267.33 490) scale(0.9513 1)" font-size="20.49" fill="#262626" stroke="#262626" stroke-width="0.5" stroke-linejoin="round">OTU113<tspan dx="-3.36"> (Candidatus Nitrosopumilus)</tspan></text>
<text transform="translate(1277.34 551) scale(0.9483 1)" font-size="20.49" fill="#262626" stroke="#262626" stroke-width="0.5" stroke-linejoin="round">OTU31<tspan dx="-3.37"> (Candidatus Nitrosopumilus)</tspan></text>
<text transform="translate(1567.74 527) scale(0.9435 1)" font-size="20.49" fill="#262626" stroke="#262626" stroke-width="0.5" stroke-linejoin="round">OTU16<tspan dx="-3.39"> (TCMS-like)</tspan></text>
<text transform="translate(1918.93 382) scale(0.9504 1)" font-size="20.49" fill="#262626" stroke="#262626" stroke-width="0.5" stroke-linejoin="round">OTU155 (Methanosarcinaceae)</text>
<text transform="translate(1884.15 430) scale(0.9292 1)" font-size="20.49" fill="#262626" stroke="#262626" stroke-width="0.5" stroke-linejoin="round">OTU303<tspan dx="-3.44"> (LCMS-like)</tspan></text>
<text transform="translate(1895.15 454) scale(0.9292 1)" font-size="20.49" fill="#262626" stroke="#262626" stroke-width="0.5" stroke-linejoin="round">OTU174<tspan dx="-3.44"> (LCMS-like)</tspan></text>
<text transform="translate(1936.56 483) scale(0.9271 1)" font-size="20.49" fill="#262626" stroke="#262626" stroke-width="0.5" stroke-linejoin="round">OTU280<tspan dx="-3.45"> (LCMS-like)</tspan></text>
</g>
</svg>
</body></html>
